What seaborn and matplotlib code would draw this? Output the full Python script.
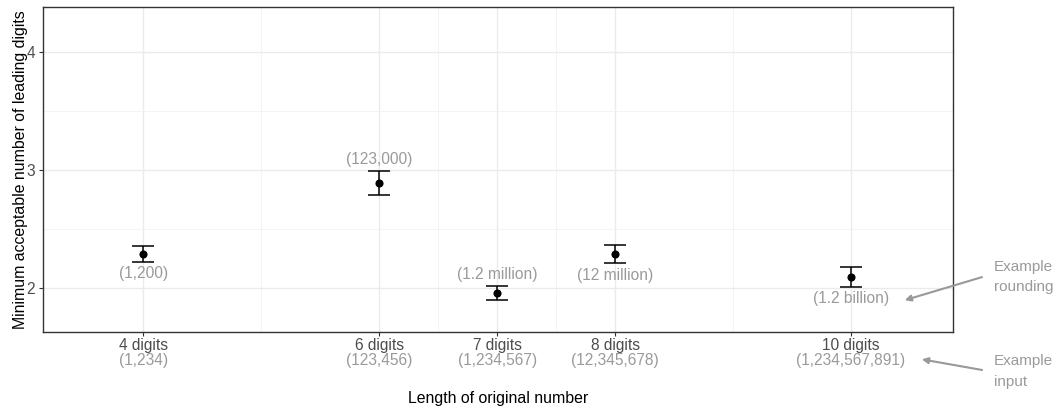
import matplotlib
matplotlib.use("Agg")
import matplotlib.pyplot as plt
import matplotlib.transforms as mtransforms
import seaborn as sns
import pandas as pd

# ---- data ----
categories = ["4 digits", "6 digits", "7 digits", "8 digits", "10 digits"]
n_digits = [4, 6, 7, 8, 10]
example_inputs = ["(1,234)", "(123,456)", "(1,234,567)", "(12,345,678)", "(1,234,567,891)"]
example_rounding = ["(1,200)", "(123,000)", "(1.2 million)", "(12 million)", "(1.2 billion)"]
means = [2.29, 2.89, 1.96, 2.29, 2.095]
lower = [2.22, 2.79, 1.90, 2.21, 2.01]
upper = [2.36, 2.99, 2.02, 2.37, 2.18]
label_side = ["below", "above", "above", "below", "below"]

df = pd.DataFrame({"digits": n_digits, "mean": means, "lo": lower, "hi": upper})

sns.set_theme(style="whitegrid")
plt.rcParams["font.family"] = ["Liberation Sans", "DejaVu Sans"]

GRAY_TXT = "#9a9a9a"
DARK_TXT = "#4d4d4d"

fig = plt.figure(figsize=(10.56, 4.09), dpi=100)
ax = fig.add_axes([43 / 1056, 1 - 332 / 409, (952.5 - 43) / 1056, (332 - 7) / 409])

# error bars
ax.errorbar(df["digits"], df["mean"],
            yerr=[df["mean"] - df["lo"], df["hi"] - df["mean"]],
            fmt="none", ecolor="black", elinewidth=1.1, capsize=8.2, capthick=1.1, zorder=3)
sns.scatterplot(data=df, x="digits", y="mean", color="black", s=34, linewidth=0, ax=ax, zorder=4)

# rounding labels
for x, lo, hi, lab, side in zip(n_digits, lower, upper, example_rounding, label_side):
    if side == "above":
        ax.annotate(lab, (x, hi), xytext=(0, 3), textcoords="offset points",
                    ha="center", va="bottom", color=GRAY_TXT, fontsize=11.2)
    else:
        ax.annotate(lab, (x, lo), xytext=(0, -3), textcoords="offset points",
                    ha="center", va="top", color=GRAY_TXT, fontsize=11.2)

ax.set_xlim(3.15, 10.86)
ax.set_ylim(1.631, 4.378)

ax.set_xticks(n_digits)
ax.set_xticklabels(categories)
ax.set_xticks([5, 6.5, 7.5, 9], minor=True)
ax.set_yticks([2, 3, 4])
ax.set_yticklabels(["2", "3", "4"])
ax.set_yticks([2.5, 3.5], minor=True)

ax.grid(which="major", color="#ebebeb", linewidth=1.0)
ax.grid(which="minor", color="#f2f2f2", linewidth=0.6)
ax.set_axisbelow(True)

ax.tick_params(axis="both", which="major", length=3, width=0.8, color="#333333",
               labelsize=11.2, labelcolor=DARK_TXT, bottom=True, left=True)
ax.tick_params(axis="x", which="major", pad=1)
ax.tick_params(axis="y", which="major", pad=2.5)
ax.tick_params(which="minor", length=0)

for s in ax.spines.values():
    s.set_color("#333333")
    s.set_linewidth(1.0)
    s.set_visible(True)

# second line of x tick labels (example inputs)
trans = mtransforms.blended_transform_factory(ax.transData, ax.transAxes)
for x, lab in zip(n_digits, example_inputs):
    ax.annotate(lab, (x, 0), xycoords=trans, xytext=(0, -20.2), textcoords="offset points",
                ha="center", va="center", color=GRAY_TXT, fontsize=11.2, annotation_clip=False)

ax.set_xlabel("Length of original number", fontsize=11.4, color="black", labelpad=28)
ax.set_ylabel("Minimum acceptable number of leading digits", fontsize=11.4, color="black", labelpad=-1)

# side annotations
ax.text(11.21, 2.098, "Example\nrounding", ha="left", va="center", color=GRAY_TXT,
        fontsize=11, linespacing=1.55, clip_on=False)
ax.text(11.21, 1.297, "Example\ninput", ha="left", va="center", color=GRAY_TXT,
        fontsize=11, linespacing=1.55, clip_on=False)
arrow_kw = dict(arrowstyle="-|>", color="#999999", lw=1.5, mutation_scale=9, shrinkA=0, shrinkB=0)
ax.annotate("", xy=(10.455, 1.90), xytext=(11.11, 2.095), arrowprops=arrow_kw, annotation_clip=False)
ax.annotate("", xy=(10.60, 1.40), xytext=(11.11, 1.31), arrowprops=arrow_kw, annotation_clip=False)

fig.savefig("out.png", dpi=100)
